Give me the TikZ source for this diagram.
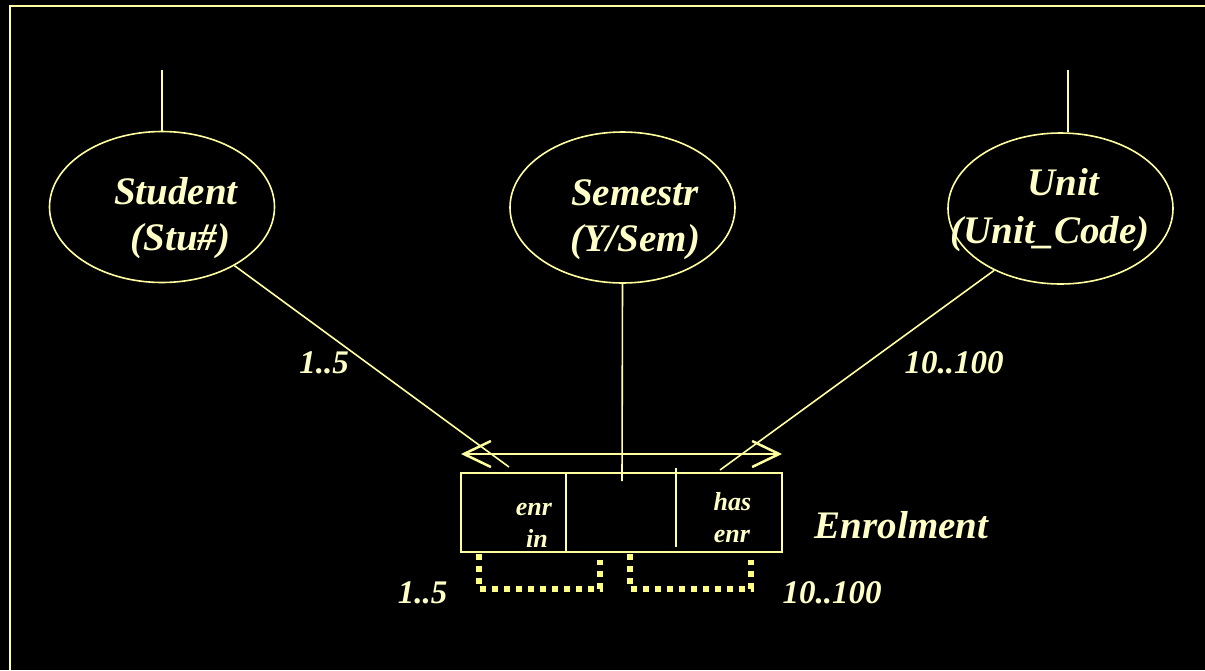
\documentclass[tikz,border=0pt]{standalone}
\usepackage{fontspec}
\setmainfont{Liberation Serif}
\usetikzlibrary{arrows.meta,shapes.geometric}
\definecolor{lin}{RGB}{255,255,160}
\definecolor{txt}{RGB}{255,255,200}
\definecolor{dotc}{RGB}{255,255,130}
\tikzset{
  ent/.style={draw=lin, line width=1.6pt, ellipse, inner sep=0pt, minimum width=225pt, minimum height=151pt},
  conn/.style={draw=lin, line width=1.6pt},
  bigtxt/.style={text=txt, anchor=base, inner sep=0pt, font=\bfseries\itshape\fontsize{39}{46}\selectfont},
  numtxt/.style={text=txt, anchor=base, inner sep=0pt, font=\bfseries\itshape\fontsize{33}{40}\selectfont},
  smalltxt/.style={text=txt, anchor=base, inner sep=0pt, font=\bfseries\itshape\fontsize{26}{30}\selectfont},
  dotbracket/.style={draw=dotc, line width=5.5pt, dash pattern=on 6pt off 6pt},
}
\begin{document}
\begin{tikzpicture}[x=1pt,y=-1pt]
\fill[black] (0,0) rectangle (1205,670);
\useasboundingbox (0,0) rectangle (1205,670);
% frame
\draw[lin, line width=2.5pt] (10,670) -- (10,6) -- (1205,6);

% entities
\node[ent] (stuE) at (162,207) {};
\node[ent] (semE) at (622.5,207.5) {};
\node[ent] (unitE) at (1060.5,208.5) {};

\node[bigtxt] (stuT1) at (176,204) {Student};
\node[bigtxt] (stuT2) at (180.5,250) {(Stu\#)};
\node[bigtxt] (semT1) at (635,205) {Semestr};
\node[bigtxt] (semT2) at (635,251) {(Y/Sem)};
\node[bigtxt] (unitT1) at (1063.5,195) {Unit};
\node[bigtxt] (unitT2) at (1050,243) {(Unit\_Code)};

% top stubs
\coordinate (stuTop) at (162,70);
\coordinate (unitTop) at (1068,70);
\draw[conn] (stuTop) -- (stuE.north);
\draw[conn] (unitTop) -- (unitTop |- unitE.north);

% relationship box
\node[draw=lin, line width=2pt, minimum width=321pt, minimum height=79pt, inner sep=0pt] (box) at (621.5,512.5) {};
\coordinate (div1t) at (565.7,473);
\coordinate (div1b) at (565.7,552);
\coordinate (div2t) at (676,468);
\coordinate (div2b) at (676,547);
\draw[conn, line width=2pt] (div1t) -- (div1b);
\draw[conn, line width=2pt] (div2t) -- (div2b);

% double arrow
\coordinate (arrL) at (461,454);
\coordinate (arrR) at (782,454);
\draw[conn, line width=2.5pt, {Straight Barb[length=27pt,width=26pt]}-{Straight Barb[length=27pt,width=26pt]}] (arrL) -- (arrR);

% connectors
\coordinate (stuEnd) at (509,467);
\coordinate (unitEnd) at (720,470);
\coordinate (semEnd) at (622,481);
\draw[conn] (stuE.-39) -- (stuEnd);
\draw[conn] (unitE.223.3) -- (unitEnd);
\draw[conn] (semE.south) -- (semEnd);

% labels
\node[numtxt] (c1) at (324,373) {1..5};
\node[numtxt] (c2) at (954,373) {10..100};
\node[bigtxt] (rel) at (901.5,538) {Enrolment};
\node[numtxt] (c3) at (422.5,603) {1..5};
\node[numtxt] (c4) at (832,603) {10..100};
\node[smalltxt] (r1a) at (534,515) {enr};
\node[smalltxt] (r1b) at (537,547) {in};
\node[smalltxt] (r2a) at (732.5,510) {has};
\node[smalltxt] (r2b) at (732,542) {enr};

% dotted brackets
\coordinate (b1a) at (479,554);
\coordinate (b1b) at (479,589);
\coordinate (b1c) at (600,589);
\coordinate (b1d) at (600,560);
\coordinate (b2a) at (630,554);
\coordinate (b2b) at (630,589);
\coordinate (b2c) at (751,589);
\coordinate (b2d) at (751,560);
\draw[dotbracket] (b1a) -- (b1b) -- (b1c) -- (b1d);
\draw[dotbracket] (b2a) -- (b2b) -- (b2c) -- (b2d);
\end{tikzpicture}
\end{document}
